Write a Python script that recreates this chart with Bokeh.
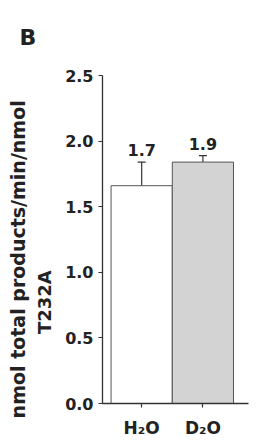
from bokeh.plotting import figure
from bokeh.models import ColumnDataSource, Whisker, TeeHead, FixedTicker, LinearAxis, Title
from bokeh.core.properties import value
from bokeh.embed import file_html
from bokeh.resources import INLINE

# ---- data ----
categories = ["H\u2082O", "D\u2082O"]
positions = [1, 2]
means = [1.66, 1.84]
errors = [0.18, 0.05]
value_labels = ["1.7", "1.9"]
fills = ["#ffffff", "#d3d3d3"]
y_ticks = [0.0, 0.5, 1.0, 1.5, 2.0, 2.5]
y_label_1 = "nmol total products/min/nmol"
y_label_2 = "T232A"
panel = "B"

FONT = "DejaVu Sans"
NBSP = "\u00a0"

src = ColumnDataSource(dict(
    x=positions, top=means, fill=fills,
    upper=[m + e for m, e in zip(means, errors)],
    lower=means, lab=value_labels,
))

X0, X1 = 0.36, 2.745
p = figure(width=256, height=443, output_backend="svg", toolbar_location=None,
           x_range=(X0, X1), y_range=(0, 2.5),
           min_border_left=102, min_border_right=8, min_border_top=75,
           min_border_bottom=40)
p.outline_line_color = None
p.grid.grid_line_color = None
p.background_fill_color = "white"
p.border_fill_color = "white"

p.vbar(x="x", top="top", width=1.0, bottom=0, source=src, fill_color="fill",
       line_color="#555555", line_width=1)

w = Whisker(base="x", upper="upper", lower="lower", source=src,
            line_color="#333333", line_width=1.2,
            upper_head=TeeHead(size=8, line_color="#333333", line_width=1.2),
            lower_head=None)
p.add_layout(w)

p.text(x="x", y="upper", text="lab", source=src, text_align="center",
       text_baseline="bottom", y_offset=-6, text_font=value(FONT),
       text_font_style="bold", text_font_size="16px", text_color="#222222")

# axes
for ax in (p.xaxis[0], p.yaxis[0]):
    ax.axis_line_color = "#333333"
    ax.axis_line_width = 1.3
    ax.major_tick_line_color = "#333333"
    ax.major_tick_line_width = 1.2
    ax.major_tick_in = 0
    ax.major_tick_out = 4
    ax.minor_tick_line_color = None
    ax.major_label_text_font = FONT
    ax.major_label_text_font_style = "bold"
    ax.major_label_text_color = "#222222"

p.yaxis.ticker = FixedTicker(ticks=y_ticks)
p.yaxis.major_label_overrides = {t: f"{t:.1f}" for t in y_ticks}
p.yaxis.major_label_text_font_size = "16px"
p.yaxis.major_label_standoff = 5
# padding with no-break spaces moves the visible title lower along the axis
p.yaxis.axis_label = y_label_2 + NBSP * 20
p.yaxis.axis_label_text_font = FONT
p.yaxis.axis_label_text_font_style = "bold"
p.yaxis.axis_label_text_font_size = "18px"
p.yaxis.axis_label_text_color = "#222222"
p.yaxis.axis_label_standoff = 7

# outer line of the y-axis title
outer = LinearAxis(ticker=FixedTicker(ticks=[]), axis_line_color=None,
                   major_tick_line_color=None, minor_tick_line_color=None,
                   major_label_text_font_size="0px",
                   axis_label=y_label_1 + NBSP * 6, axis_label_text_font=FONT,
                   axis_label_text_font_style="bold",
                   axis_label_text_font_size="19px",
                   axis_label_text_color="#222222",
                   axis_label_standoff=3)
p.add_layout(outer, "left")

p.xaxis.ticker = FixedTicker(ticks=positions)
p.xaxis.major_label_overrides = {pos: c for pos, c in zip(positions, categories)}
p.xaxis.major_label_text_font_size = "17px"
p.xaxis.major_label_standoff = 10

p.title = Title(text=panel, align="left", offset=-83, standoff=48,
                vertical_align="top",
                text_font=FONT, text_font_style="bold",
                text_font_size="22px", text_color="#222222")

open("out.html", "w").write(file_html(p, INLINE))
